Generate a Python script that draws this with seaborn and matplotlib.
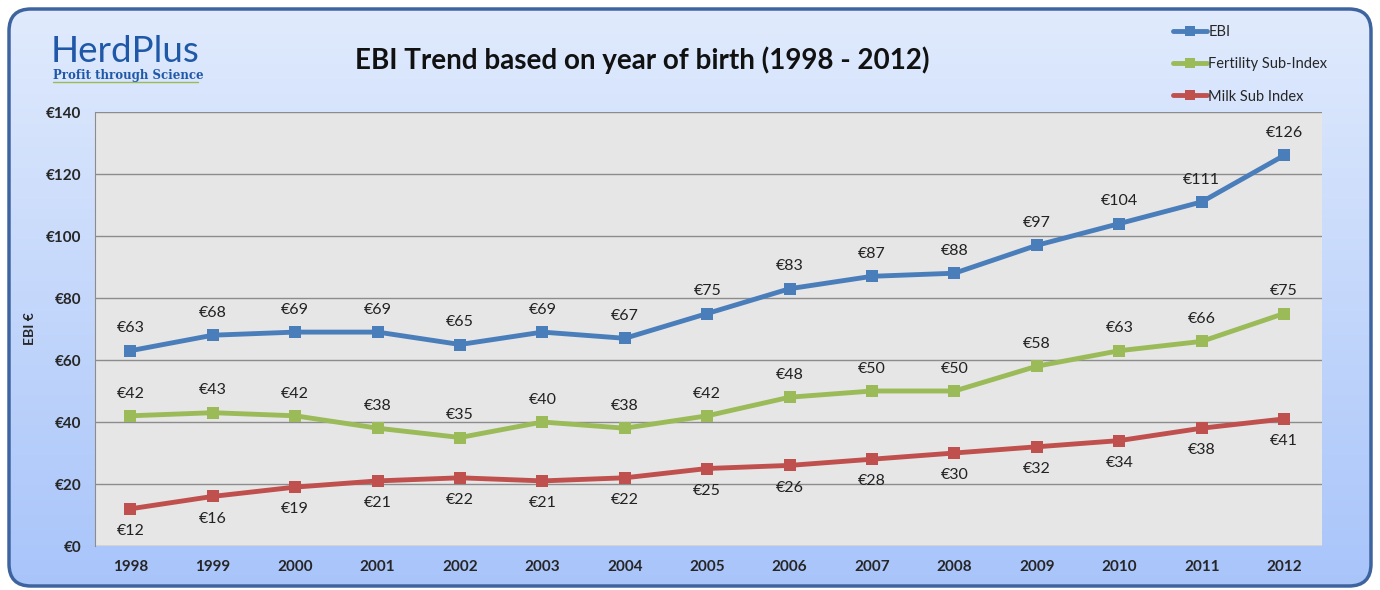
import numpy as np
import pandas as pd
import seaborn as sns
import matplotlib.pyplot as plt
from matplotlib.patches import FancyBboxPatch
from matplotlib.lines import Line2D

# data
years = [1998, 1999, 2000, 2001, 2002, 2003, 2004, 2005, 2006, 2007, 2008, 2009, 2010, 2011, 2012]
ebi = [63, 68, 69, 69, 65, 69, 67, 75, 83, 87, 88, 97, 104, 111, 126]
fertility = [42, 43, 42, 38, 35, 40, 38, 42, 48, 50, 50, 58, 63, 66, 75]
milk = [12, 16, 19, 21, 22, 21, 22, 25, 26, 28, 30, 32, 34, 38, 41]
series_names = ['EBI', 'Fertility Sub-Index', 'Milk Sub Index']
colors = ['#4a7ebb', '#9bbb59', '#c0504d']

df = pd.DataFrame({'Year': years, 'EBI': ebi, 'Fertility Sub-Index': fertility,
                   'Milk Sub Index': milk})
df['pos'] = range(len(years))
long = df.melt(id_vars=['Year', 'pos'], value_vars=series_names,
               var_name='Series', value_name='Value')

sns.set_style('white')
plt.rcParams['font.family'] = ['Lato', 'DejaVu Sans']

fig = plt.figure(figsize=(13.8, 5.9), dpi=100)

# gradient background with rounded frame
bg = fig.add_axes([0, 0, 1, 1], zorder=-5)
bg.set_xlim(0, 1380)
bg.set_ylim(590, 0)
bg.axis('off')
frame = FancyBboxPatch((9, 9), 1362, 577, boxstyle='round,pad=0,rounding_size=22',
                       facecolor='none', edgecolor='#3e64a0', linewidth=2.5)
grad = np.linspace(0, 1, 256).reshape(-1, 1)
top_c = np.array([0.88, 0.92, 0.99])
bot_c = np.array([0.66, 0.77, 0.98])
img = top_c + grad[..., None] * (bot_c - top_c)
im = bg.imshow(img, extent=[9, 1371, 586, 9], aspect='auto')
bg.add_patch(frame)
im.set_clip_path(frame)

ax = fig.add_axes([95 / 1380, 1 - 546 / 590, 1227 / 1380, 434 / 590])
ax.set_facecolor('#e6e6e6')
sns.lineplot(data=long, x='pos', y='Value', hue='Series', palette=colors,
             marker='s', markersize=9, markeredgewidth=0, linewidth=3.5,
             dashes=False, legend=False, ax=ax)

ax.set_xlim(-0.43, 14.46)
ax.set_ylim(0, 140)
ax.set_yticks(range(0, 141, 20))
ax.set_yticklabels(['€%d' % v for v in range(0, 141, 20)], fontsize=11, fontweight='bold')
ax.set_xticks(df['pos'])
ax.set_xticklabels([str(y) for y in years], fontsize=11, fontweight='bold')
ax.tick_params(axis='both', length=0, pad=10)
ax.grid(axis='y', color='#8c8c8c', linewidth=1)
ax.set_axisbelow(True)
for s in ['top', 'right', 'bottom']:
    ax.spines[s].set_visible(False)
ax.spines['left'].set_color('#8c8c8c')
ax.set_xlabel('')
ax.set_ylabel('EBI €', fontsize=10, fontweight='bold', labelpad=7)

# point labels
for i in range(len(years)):
    ax.annotate('€%d' % ebi[i], (i, ebi[i]), xytext=(0, 11), textcoords='offset points',
                ha='center', va='bottom', fontsize=11.5, color='#222222')
    ax.annotate('€%d' % fertility[i], (i, fertility[i]), xytext=(0, 11), textcoords='offset points',
                ha='center', va='bottom', fontsize=11.5, color='#222222')
    ax.annotate('€%d' % milk[i], (i, milk[i]), xytext=(0, -11), textcoords='offset points',
                ha='center', va='top', fontsize=11.5, color='#222222')

# title and logo
fig.text(642 / 1380, 1 - 60 / 590, 'EBI Trend based on year of birth (1998 - 2012)',
         ha='center', va='center', fontsize=20, fontweight='bold', color='#111111')
fig.text(51 / 1380, 1 - 52 / 590, 'HerdPlus', ha='left', va='center', fontsize=26.5,
         color='#2058a8')
fig.text(53 / 1380, 1 - 75 / 590, 'Profit through Science', ha='left', va='center',
         fontsize=8.5, fontweight='bold', color='#2058a8', family='DejaVu Serif')
fig.add_artist(Line2D([53 / 1380, 198 / 1380], [1 - 82 / 590, 1 - 82 / 590],
                      color='#9bbb59', linewidth=1))

# legend
handles = [Line2D([], [], color=c, linewidth=3.5, marker='s', markersize=7, markeredgewidth=0)
           for c in colors]
fig.legend(handles, series_names, loc='upper left', bbox_to_anchor=(1160 / 1380, 1 - 12 / 590),
           frameon=False, fontsize=10.5, handlelength=2.3, handletextpad=0.1,
           labelspacing=1.25)

fig.savefig('out.png', dpi=100)
